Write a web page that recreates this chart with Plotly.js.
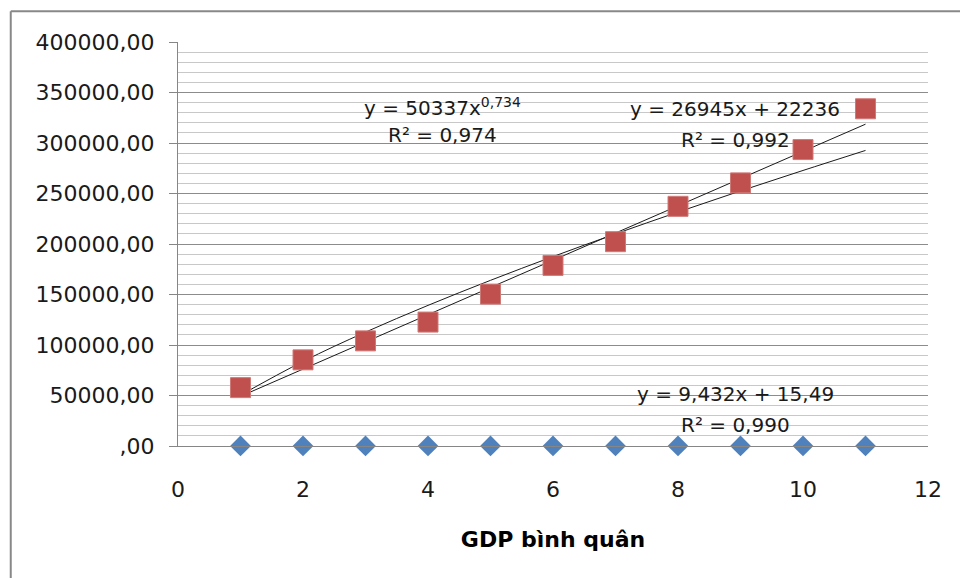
<!DOCTYPE html>
<html>
<head>
<meta charset="utf-8">
<script src="https://cdn.plot.ly/plotly-3.0.1.min.js"></script>
<style>html,body{margin:0;padding:0;background:#fff;}#chart{width:960px;height:578px;}</style>
</head>
<body>
<div id="chart"></div>
<script>
// Data
const xValues = [1, 2, 3, 4, 5, 6, 7, 8, 9, 10, 11];
const redSeries = [57800, 85300, 104100, 122700, 150400, 178800, 202300, 237300, 260500, 293500, 333900];
const blueSeries = [25, 34, 44, 53, 63, 72, 82, 91, 100, 110, 119];
// Trendline values as drawn in the reference
const linearTrendX = [1, 11];
const linearTrendY = [49181, 318631];
const powerTrendY = [50337, 83720, 112750, 139230, 164030, 187520, 210000, 231600, 252530, 272810, 292620];
const yTickVals = [0, 50000, 100000, 150000, 200000, 250000, 300000, 350000, 400000];
const yTickText = [",00", "50000,00", "100000,00", "150000,00", "200000,00", "250000,00", "300000,00", "350000,00", "400000,00"];
const xTickVals = [0, 2, 4, 6, 8, 10, 12];
const xAxisTitle = "GDP bình quân";
const eqPower = "y = 50337x<sup>0,734</sup>";
const r2Power = "R² = 0,974";
const eqLinear = "y = 26945x + 22236";
const r2Linear = "R² = 0,992";
const eqBlue = "y = 9,432x + 15,49";
const r2Blue = "R² = 0,990";

const FONT = "DejaVu Sans";
const traces = [
  {x: xValues, y: powerTrendY, type: "scatter", mode: "lines",
   line: {color: "#1a1a1a", width: 1, shape: "spline"}, showlegend: false, hoverinfo: "skip"},
  {x: linearTrendX, y: linearTrendY, type: "scatter", mode: "lines",
   line: {color: "#1a1a1a", width: 1}, showlegend: false, hoverinfo: "skip"},
  {x: xValues, y: blueSeries, type: "scatter", mode: "markers", cliponaxis: false,
   marker: {symbol: "diamond", size: 16, color: "#4F81BD", line: {width: 0}}, showlegend: false},
  {x: xValues, y: redSeries, type: "scatter", mode: "markers", cliponaxis: false,
   marker: {symbol: "square", size: 20, color: "#C0504D", line: {width: 1, color: "#d07a78"}}, showlegend: false}
];

function ann(text, x, y) {
  return {text: text, xref: "paper", yref: "paper", x: x, y: y, xanchor: "center", yanchor: "middle",
          showarrow: false, font: {family: FONT, size: 20, color: "#1a1a1a"}};
}

const layout = {
  width: 960, height: 578,
  margin: {l: 178, r: 32, t: 42, b: 132},
  paper_bgcolor: "#fff", plot_bgcolor: "#fff",
  showlegend: false,
  hovermode: false,
  xaxis: {
    range: [0, 12], tickvals: xTickVals, showgrid: false, zeroline: false,
    showline: true, linecolor: "#868686", linewidth: 1, ticks: "",
    ticklabelstandoff: 24,
    tickfont: {family: FONT, size: 22, color: "#1a1a1a"},
    title: {text: xAxisTitle, standoff: 30, font: {family: FONT, size: 22, color: "#000", weight: "bold"}}
  },
  yaxis: {
    range: [0, 400000], tickvals: yTickVals, ticktext: yTickText,
    showgrid: true, gridcolor: "#8c8c8c", gridwidth: 1, zeroline: false,
    showline: true, linecolor: "#868686", linewidth: 1,
    ticks: "outside", ticklen: 8, tickcolor: "#868686", ticklabelstandoff: 10,
    tickfont: {family: FONT, size: 22, color: "#1a1a1a"},
    minor: {dtick: 10000, showgrid: true, gridcolor: "#c8c8c8", gridwidth: 1, ticks: ""}
  },
  shapes: [
    {type: "line", xref: "x", yref: "y", ysizemode: "pixel", yanchor: 0, x0: 0, x1: 0, y0: 0, y1: -9, line: {color: "#868686", width: 1}},
    {type: "line", xref: "x", yref: "y", ysizemode: "pixel", yanchor: 0, x0: 12, x1: 12, y0: 0, y1: -9, line: {color: "#868686", width: 1}},
    {type: "line", xref: "paper", yref: "paper", x0: -0.223, x1: -0.223, y0: 1.076, y1: -0.33, line: {color: "#888", width: 2}},
    {type: "line", xref: "paper", yref: "paper", x0: -0.223, x1: 1.1, y0: 1.076, y1: 1.076, line: {color: "#888", width: 2}}
  ],
  annotations: [
    ann(eqPower, 0.3533, 0.84),
    ann(r2Power, 0.3533, 0.7710),
    ann(eqLinear, 0.7427, 0.833),
    ann(r2Linear, 0.7427, 0.758),
    ann(eqBlue, 0.7433, 0.1289),
    ann(r2Blue, 0.7433, 0.052)
  ]
};

Plotly.newPlot("chart", traces, layout, {displayModeBar: false, staticPlot: true});
</script>
</body>
</html>
